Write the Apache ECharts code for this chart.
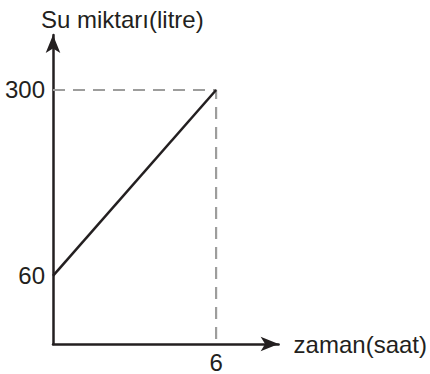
<!DOCTYPE html>
<html>
<head>
<meta charset="utf-8">
<style>
  html, body { margin: 0; padding: 0; background: #fff; }
  #chart { width: 430px; height: 374px; }
</style>
<script src="https://cdn.jsdelivr.net/npm/echarts@6/dist/echarts.min.js"></script>
</head>
<body>
<div id="chart"></div>
<script>
// water amount over time
const hours = [0, 6]
const litres = [60, 300]
const xTicks = [6]
const yTicks = [60, 300]

// the drawing is not to scale, so the y axis starts below zero
const xMax = 8.3
const yMin = -28
const yMax = 371

const ink = "#231f20"
const dashGrey = "#9d9d9c"
const font = "Liberation Sans, Arial, sans-serif"
const size = 24

const chart = echarts.init(document.getElementById("chart"), null, { renderer: "svg" })

chart.setOption({
    animation: false,
    title: {
        text: "Su miktarı(litre)",
        left: 41,
        top: 7,
        padding: 0,
        textStyle: { color: ink, fontSize: size, fontWeight: "normal", fontFamily: font },
    },
    grid: { left: 53, right: 148, top: 35, bottom: 30 },
    xAxis: {
        type: "value",
        min: 0,
        max: xMax,
        name: "zaman(saat)",
        nameLocation: "end",
        nameGap: 15,
        nameTextStyle: { color: ink, fontSize: size, fontFamily: font },
        axisLine: {
            onZero: false,
            symbol: ["none", "arrow"],
            symbolSize: [11, 18],
            lineStyle: { color: ink, width: 2.5 },
        },
        axisTick: { show: false },
        splitLine: { show: false },
        axisLabel: {
            customValues: xTicks,
            margin: 6,
            color: ink,
            fontSize: size,
            fontFamily: font,
        },
    },
    yAxis: {
        type: "value",
        min: yMin,
        max: yMax,
        axisLine: {
            show: true,
            symbol: ["none", "arrow"],
            symbolSize: [11, 18],
            lineStyle: { color: ink, width: 2.5 },
        },
        axisTick: { show: false },
        splitLine: { show: false },
        axisLabel: {
            customValues: yTicks,
            margin: 8,
            color: ink,
            fontSize: size,
            fontFamily: font,
        },
    },
    series: [
        {
            type: "line",
            data: [[0, litres[1]], [hours[1], litres[1]], [hours[1], yMin]],
            symbol: "none",
            silent: true,
            lineStyle: { color: dashGrey, width: 2.2, type: [12, 8] },
            z: 1,
        },
        {
            type: "line",
            data: hours.map((h, i) => [h, litres[i]]),
            symbol: "none",
            lineStyle: { color: ink, width: 2.5 },
            z: 3,
        },
    ],
})
</script>
</body>
</html>
